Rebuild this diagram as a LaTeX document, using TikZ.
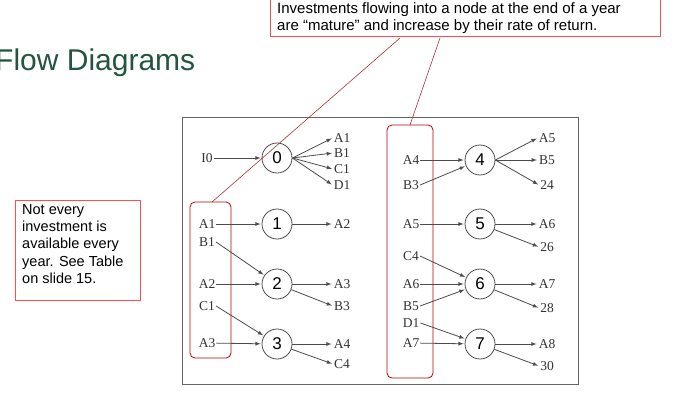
\documentclass[tikz,border=0pt]{standalone}
\usepackage{fontspec}
\setmainfont{Liberation Serif}
\newfontfamily\sansf{Liberation Sans}
\definecolor{titlegreen}{RGB}{35,85,65}
\begin{document}
\begin{tikzpicture}[x=1pt,y=-1pt,
  lab/.style={font=\fontsize{13.5}{13.5}\selectfont, inner sep=1pt, text=black!80},
  st/.style={circle, draw=black!70, thick, minimum size=30pt, inner sep=0pt, font=\sansf\fontsize{17}{17}\selectfont},
  ar/.style={draw=black!70, -latex, thick, shorten >=1pt},
  redbox/.style={draw=red!75!black, thick, rounded corners=5pt},
  callout/.style={draw=red!60!black!80, semithick}]
\useasboundingbox (0,0) rectangle (700,412);
\fill[white] (0,0) rectangle (700,412);
% frame
\draw[black!60, thick] (182,117) rectangle (578,384);
% callouts
\node[draw=red!70, fill=white, minimum width=390pt, minimum height=38pt, anchor=north west, inner sep=0pt] (top) at (270,-2) {};
\node[font=\sansf\fontsize{15}{17.5}\selectfont, align=left, anchor=north west, inner sep=0pt] (toptext) at (277,2) {Investments flowing into a node at the end of a year\\are “mature” and increase by their rate of return.};
\node[font=\sansf\fontsize{30}{32}\selectfont, text=titlegreen, anchor=west, inner sep=0pt] (title) at (-5,63) {Flow Diagrams};
\node[draw=red!70, minimum width=125pt, minimum height=100pt, anchor=north west, inner sep=0pt] (side) at (15,200) {};
\node[font=\sansf\fontsize{14.5}{17.3}\selectfont, align=left, anchor=north west, inner sep=0pt] (sidetext) at (22,204) {Not every\\investment is\\available every\\year. See Table\\on slide 15.};
\draw[redbox] (190,202) rectangle (231,358);
\draw[redbox] (387,125) rectangle (433,378);
\coordinate (c1) at (400,38);
\coordinate (c2) at (440,38);
\draw[callout] (c1) -- (212,202);
\draw[callout] (c2) -- (410,125);
% left column
\node[lab] (I0) at (207,158) {I0};
\node[st] (n0) at (277,158) {0};
\node[lab] (oA1) at (342,138) {A1};
\node[lab] (oB1) at (342,153) {B1};
\node[lab] (oC1) at (342,169) {C1};
\node[lab] (oD1) at (342,185) {D1};
\node[lab] (A1) at (207,224) {A1};
\node[lab] (B1) at (207,242) {B1};
\node[st] (n1) at (277,224) {1};
\node[lab] (oA2) at (342,224) {A2};
\node[lab] (A2) at (207,284) {A2};
\node[lab] (C1) at (207,306) {C1};
\node[st] (n2) at (277,284) {2};
\node[lab] (oA3) at (342,284) {A3};
\node[lab] (oB3) at (342,306) {B3};
\node[lab] (A3) at (207,343) {A3};
\node[st] (n3) at (277,344) {3};
\node[lab] (oA4) at (342,344) {A4};
\node[lab] (oC4) at (342,364) {C4};
% right column
\node[lab] (A4) at (411,160) {A4};
\node[lab] (B3) at (411,185) {B3};
\node[st] (n4) at (480,160) {4};
\node[lab] (oA5) at (547,138) {A5};
\node[lab] (oB5) at (547,160) {B5};
\node[lab] (o24) at (547,185) {24};
\node[lab] (A5) at (411,224) {A5};
\node[st] (n5) at (480,224) {5};
\node[lab] (oA6) at (547,224) {A6};
\node[lab] (o26) at (547,247) {26};
\node[lab] (C4) at (411,256) {C4};
\node[lab] (A6) at (411,284) {A6};
\node[lab] (B5) at (411,306) {B5};
\node[st] (n6) at (480,284) {6};
\node[lab] (oA7) at (547,284) {A7};
\node[lab] (o28) at (547,308) {28};
\node[lab] (D1) at (411,323) {D1};
\node[lab] (A7) at (411,343) {A7};
\node[st] (n7) at (480,344) {7};
\node[lab] (oA8) at (547,344) {A8};
\node[lab] (o30) at (547,366) {30};
% arrows
\draw[ar] (I0) -- (n0);
\foreach \t in {oA1,oB1,oC1,oD1} \draw[ar] (n0.east) -- (\t.west);
\draw[ar] (A1) -- (n1); \draw[ar] (n1) -- (oA2);
\draw[ar] (B1.east) -- (n2); \draw[ar] (A2) -- (n2);
\draw[ar] (n2) -- (oA3); \draw[ar] (n2) -- (oB3.west);
\draw[ar] (C1.east) -- (n3); \draw[ar] (A3) -- (n3);
\draw[ar] (n3) -- (oA4); \draw[ar] (n3) -- (oC4.west);
\draw[ar] (A4) -- (n4); \draw[ar] (B3.east) -- (n4);
\foreach \t in {oA5,oB5,o24} \draw[ar] (n4.east) -- (\t.west);
\draw[ar] (A5) -- (n5); \draw[ar] (n5) -- (oA6); \draw[ar] (n5) -- (o26.west);
\draw[ar] (C4.east) -- (n6); \draw[ar] (A6) -- (n6); \draw[ar] (B5.east) -- (n6);
\draw[ar] (n6) -- (oA7); \draw[ar] (n6) -- (o28.west);
\draw[ar] (D1.east) -- (n7); \draw[ar] (A7) -- (n7);
\draw[ar] (n7) -- (oA8); \draw[ar] (n7) -- (o30.west);
\end{tikzpicture}
\end{document}
